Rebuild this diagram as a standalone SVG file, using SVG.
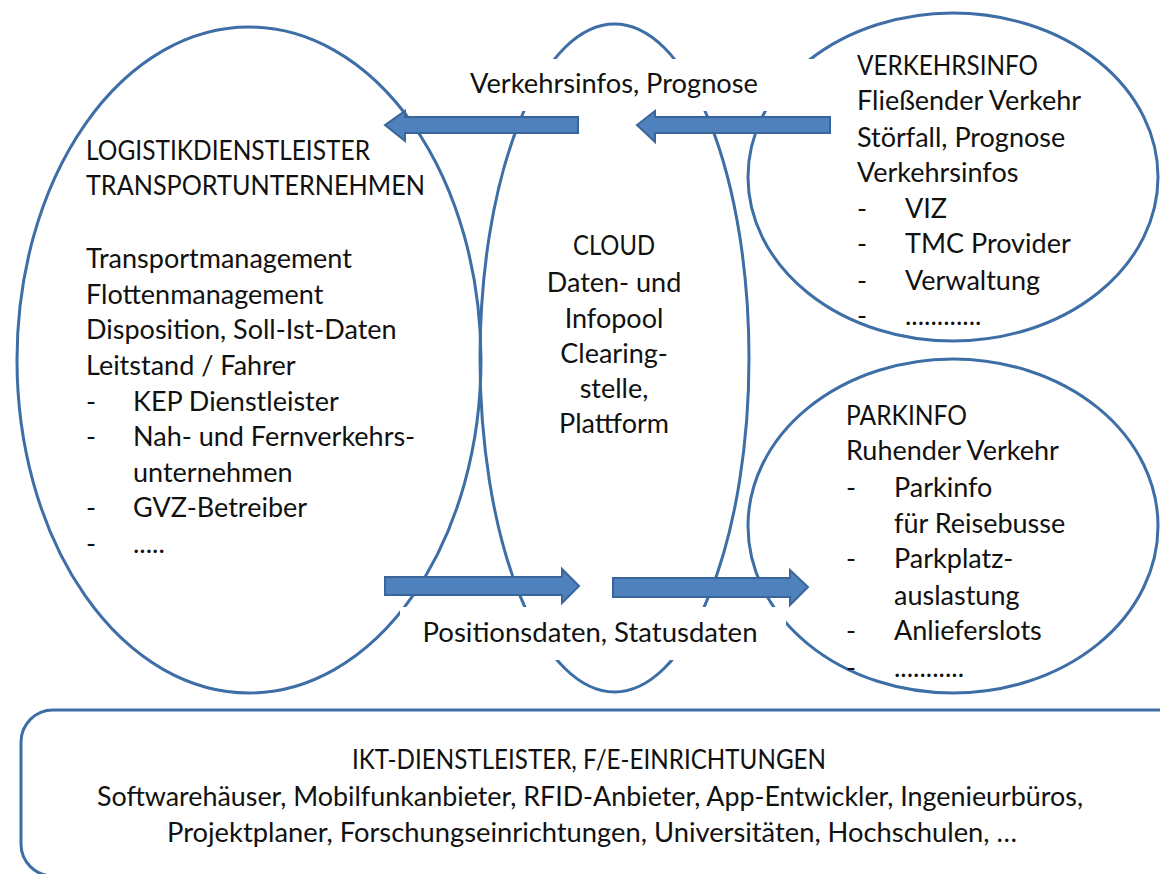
<svg xmlns="http://www.w3.org/2000/svg" width="1160" height="874" viewBox="0 0 1160 874">
<style>
.ol{fill:none;stroke:#3e6ea6;stroke-width:3}
.t{font-family:Lato,"Liberation Sans",sans-serif;font-size:27px;fill:#111}
.b{font-size:26px}
.c{text-anchor:middle}
.arr{fill:#4f81bd;stroke:#3a659a;stroke-width:2}
.lbl{fill:#fff;stroke:none}
</style>
<rect width="1160" height="874" fill="#fff"/>
<g id="logistik">
<ellipse class="ol" cx="249" cy="360" rx="232" ry="333"/>
<text class="t" x="86" y="160" textLength="284" lengthAdjust="spacingAndGlyphs">LOGISTIKDIENSTLEISTER</text>
<text class="t" x="86" y="195" textLength="339" lengthAdjust="spacingAndGlyphs">TRANSPORTUNTERNEHMEN</text>
<text class="t" x="86" y="268">Transportmanagement</text>
<text class="t" x="86" y="304">Flottenmanagement</text>
<text class="t" x="86" y="339">Disposition, Soll-Ist-Daten</text>
<text class="t" x="86" y="375">Leitstand / Fahrer</text>
<text class="t" x="86" y="411">-</text><text class="t" x="133" y="411">KEP Dienstleister</text>
<text class="t" x="86" y="446">-</text><text class="t" x="133" y="446">Nah- und Fernverkehrs-</text>
<text class="t" x="133" y="482">unternehmen</text>
<text class="t" x="86" y="517">-</text><text class="t" x="133" y="517">GVZ-Betreiber</text>
<text class="t" x="86" y="553">-</text><text class="t" x="133" y="553">.....</text>
</g>
<g id="cloud">
<ellipse class="ol" cx="614.5" cy="358" rx="134.5" ry="334"/>
<text class="t c" x="614" y="255" textLength="82" lengthAdjust="spacingAndGlyphs">CLOUD</text>
<text class="t c" x="614" y="292">Daten- und</text>
<text class="t c" x="614" y="328">Infopool</text>
<text class="t c" x="614" y="363">Clearing-</text>
<text class="t c" x="614" y="398">stelle,</text>
<text class="t c" x="614" y="433">Plattform</text>
</g>
<g id="verkehrsinfo">
<ellipse class="ol" cx="953" cy="177" rx="205" ry="164"/>
<text class="t" x="857" y="75" textLength="181" lengthAdjust="spacingAndGlyphs">VERKEHRSINFO</text>
<text class="t" x="857" y="110">Fließender Verkehr</text>
<text class="t" x="857" y="147">Störfall, Prognose</text>
<text class="t" x="857" y="182">Verkehrsinfos</text>
<text class="t" x="857" y="218">-</text><text class="t" x="905" y="218">VIZ</text>
<text class="t" x="857" y="253">-</text><text class="t" x="905" y="253">TMC Provider</text>
<text class="t" x="857" y="290">-</text><text class="t" x="905" y="290">Verwaltung</text>
<text class="t" x="857" y="325">-</text><text class="t" x="905" y="325">............</text>
</g>
<g id="parkinfo">
<ellipse class="ol" cx="953" cy="526" rx="205" ry="167"/>
<text class="t" x="846" y="425" textLength="121" lengthAdjust="spacingAndGlyphs">PARKINFO</text>
<text class="t" x="846" y="460">Ruhender Verkehr</text>
<text class="t" x="846" y="497">-</text><text class="t" x="894" y="497">Parkinfo</text>
<text class="t" x="894" y="533">für Reisebusse</text>
<text class="t" x="846" y="568">-</text><text class="t" x="894" y="568">Parkplatz-</text>
<text class="t" x="894" y="605">auslastung</text>
<text class="t" x="846" y="640">-</text><text class="t" x="894" y="640">Anlieferslots</text>
<text class="t" x="846" y="677">-</text><text class="t" x="894" y="677">...........</text>
</g>
<g id="ikt">
<rect class="ol" x="21" y="710" width="1170" height="166" rx="32"/>
<text class="t b c" x="589" y="769" textLength="474" lengthAdjust="spacingAndGlyphs">IKT-DIENSTLEISTER, F/E-EINRICHTUNGEN</text>
<text class="t b c" x="590" y="806" textLength="986" lengthAdjust="spacingAndGlyphs">Softwarehäuser, Mobilfunkanbieter, RFID-Anbieter, App-Entwickler, Ingenieurbüros,</text>
<text class="t b c" x="592" y="842" textLength="850" lengthAdjust="spacingAndGlyphs">Projektplaner, Forschungseinrichtungen, Universitäten, Hochschulen, …</text>
</g>
<g id="connectors">
<rect class="lbl" x="440" y="59" width="376" height="52"/>
<rect class="lbl" x="400" y="607" width="386" height="53"/>
<text class="t c" x="614" y="93" textLength="288" lengthAdjust="spacingAndGlyphs">Verkehrsinfos, Prognose</text>
<text class="t c" x="590" y="642" textLength="335" lengthAdjust="spacingAndGlyphs">Positionsdaten, Statusdaten</text>
<polygon class="arr" points="578,117 405,117 405,111 385,125 405,141 405,133 578,133"/>
<polygon class="arr" points="830,117 655,117 655,111 637,125 655,142 655,133 830,133"/>
<polygon class="arr" points="385,577 562,577 562,569 579,586 562,603 562,595 385,595"/>
<polygon class="arr" points="613,578 790,578 790,570 808,587 790,605 790,597 613,597"/>
</g>
</svg>
